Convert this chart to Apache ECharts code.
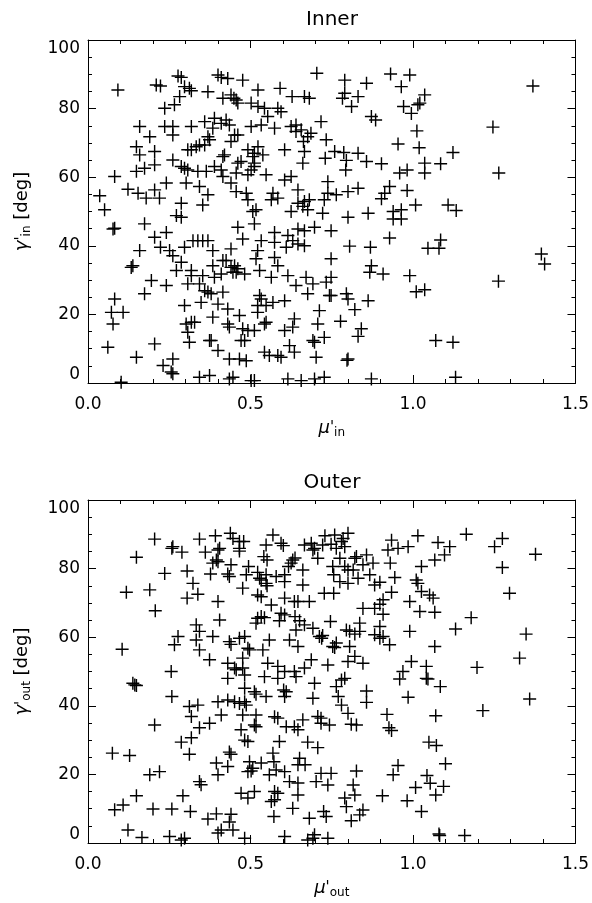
<!DOCTYPE html>
<html>
<head>
<meta charset="utf-8">
<script src="https://cdn.jsdelivr.net/npm/echarts@6/dist/echarts.min.js"></script>
<style>
html,body{margin:0;padding:0;background:#fff;}
#chart{width:592px;height:903px;}
</style>
</head>
<body>
<div id="chart"></div>
<script>
// ---------------- data ----------------
const panelTitles = ['Inner', 'Outer'];
const xTickValues = [0.0, 0.5, 1.0, 1.5];
const yTickValues = [0, 20, 40, 60, 80, 100];

const innerMu = [
0.092,0.21,0.223,0.277,0.287,0.297,0.312,0.318,0.369,0.40,
0.41,0.43,0.476,0.415,0.44,0.449,0.456,0.461,0.523,0.591,
0.628,0.666,0.681,0.704,0.282,0.266,0.236,0.502,0.523,0.543,
0.584,0.594,0.553,0.389,0.425,0.41,0.435,0.717,0.159,0.236,
0.261,0.261,0.318,0.359,0.384,0.502,0.533,0.574,0.625,0.64,
0.64,0.656,0.676,0.686,0.19,0.451,0.461,0.44,0.369,0.374,
0.359,0.343,0.333,0.318,0.307,0.149,0.159,0.205,0.261,0.287,
0.297,0.307,0.42,0.415,0.461,0.471,0.492,0.512,0.523,0.538,
0.507,0.512,0.512,0.605,0.666,0.663,0.733,0.73,0.082,0.149,
0.174,0.205,0.241,0.302,0.338,0.364,0.389,0.41,0.415,0.44,
0.456,0.492,0.502,0.548,0.661,0.605,0.625,0.738,0.123,0.154,
0.179,0.205,0.22,0.036,0.051,0.287,0.343,0.353,0.369,0.456,
0.487,0.492,0.517,0.507,0.564,0.569,0.584,0.646,0.646,0.666,
0.661,0.681,0.676,0.625,0.727,0.738,0.722,
0.79,0.857,0.931,0.99,0.964,0.79,0.783,0.831,0.811,0.971,
1.015,1.021,0.995,1.036,0.872,0.885,1.369,1.246,1.012,0.954,
1.019,1.123,0.759,0.787,0.831,0.795,0.793,0.857,0.903,1.036,
1.036,1.085,0.959,0.982,1.264,0.764,0.80,0.831,0.928,0.913,
0.903,0.982,1.008,0.939,0.964,0.862,1.108,1.133,
0.272,0.287,0.077,0.082,0.174,0.241,0.205,0.461,0.512,0.476,
0.574,0.615,0.646,0.666,0.697,0.748,0.533,0.574,0.61,0.63,
0.646,0.666,0.323,0.338,0.353,0.369,0.297,0.384,0.159,0.223,
0.251,0.261,0.44,0.522,0.517,0.574,0.584,0.748,0.138,0.133,
0.287,0.272,0.384,0.415,0.425,0.44,0.451,0.461,0.446,0.456,
0.482,0.389,0.41,0.318,0.318,0.307,0.343,0.359,0.369,0.379,
0.415,0.353,0.528,0.564,0.615,0.64,0.671,0.692,0.733,0.748,
0.195,0.241,0.174,0.082,0.072,0.108,0.077,0.297,0.348,0.40,
0.43,0.466,0.528,0.533,0.522,0.522,0.548,0.569,0.605,0.676,
0.743,0.748,0.712,0.302,0.307,0.318,0.312,0.328,0.384,0.43,
0.435,0.476,0.492,0.512,0.543,0.548,0.605,0.63,0.635,0.707,
0.727,0.374,0.379,0.40,0.471,0.482,0.466,0.487,0.692,0.697,
0.702,0.62,0.635,0.543,0.558,0.584,0.594,0.435,0.061,0.149,
0.205,0.231,0.261,0.256,0.261,0.343,0.374,0.102,0.435,0.446,
0.502,0.512,0.615,0.656,0.697,0.727,
0.80,0.939,0.964,0.928,0.805,0.869,1.046,1.08,1.085,1.395,
1.405,0.872,0.867,0.908,0.99,1.263,0.795,0.80,0.821,0.862,
1.01,1.036,0.777,0.841,0.831,1.07,1.123,0.80,0.797,0.872,1.131
];
const innerGamma = [
85.4,86.9,86.6,89.5,89.1,86.4,85.9,85.2,84.9,89.8,
89.1,88.8,88.3,83.0,84.0,83.0,82.5,81.6,85.4,85.9,
83.5,83.5,83.0,90.3,83.5,81.1,80.1,81.6,80.6,80.1,
80.1,79.1,77.7,77.2,76.7,75.7,75.2,76.2,74.8,74.8,
74.8,72.3,74.8,76.2,74.3,74.8,75.2,74.3,74.8,75.2,
73.3,73.8,71.8,72.8,71.8,72.3,72.3,70.4,71.8,70.9,
69.4,69.4,68.9,68.0,68.0,68.9,66.5,67.5,65.0,63.1,
62.6,62.1,66.5,66.0,64.1,64.6,68.0,67.0,68.9,66.5,
66.0,63.1,64.1,68.0,67.5,70.4,70.9,65.5,60.2,61.7,
62.6,63.6,58.3,58.3,61.7,61.7,63.1,62.1,60.2,58.3,
61.2,60.7,62.1,60.7,64.1,59.2,60.2,58.7,56.5,55.3,
53.9,56.3,53.9,54.6,50.5,52.4,57.3,51.9,54.9,55.8,
55.3,53.4,50.5,50.0,53.4,55.3,53.9,56.3,52.4,52.9,
51.5,53.4,50.5,50.0,53.4,55.3,49.5,
88.3,87.4,90.1,89.8,86.4,84.5,83.0,83.5,80.6,80.6,
81.1,81.6,78.6,84.0,77.7,76.7,86.6,74.6,73.5,69.7,
68.6,67.2,67.5,67.2,67.0,64.9,62.1,64.6,63.9,64.1,
61.2,63.9,61.2,62.1,61.2,54.9,55.8,56.8,57.3,55.3,
53.7,56.1,51.9,50.0,50.5,49.5,51.9,50.3,
48.8,48.3,44.9,45.1,46.4,43.9,42.5,45.4,46.4,42.0,
43.9,43.0,44.9,44.4,45.4,44.4,41.5,41.0,39.6,41.5,
40.5,40.0,41.5,41.5,41.5,41.5,39.6,38.6,38.6,39.6,
38.6,37.1,39.1,38.6,36.2,36.6,34.2,36.2,34.2,33.7,
35.2,32.8,34.2,35.7,35.7,33.7,34.2,33.3,32.3,32.3,
31.8,30.8,31.8,32.8,31.3,28.9,28.9,26.9,26.5,26.0,
26.5,31.3,32.8,30.8,31.3,28.4,30.8,28.9,29.4,30.8,
29.9,28.4,26.0,24.5,20.6,20.6,17.2,22.6,23.5,23.0,
21.6,19.7,25.5,24.5,22.6,20.6,22.6,23.5,24.0,26.0,
25.5,25.5,21.1,17.2,14.8,17.7,11.9,17.7,19.2,17.2,
16.3,15.8,15.3,15.3,17.2,17.7,15.3,16.3,18.7,17.2,
13.3,12.4,12.4,9.5,12.4,12.4,7.0,6.5,12.4,11.9,
7.5,10.9,9.0,9.0,8.0,8.0,7.5,7.0,10.4,7.5,
11.4,5.1,7.0,3.2,2.7,1.7,2.2,0.2,1.2,1.7,
0.7,0.7,1.2,0.7,1.2,1.7,
48.3,47.8,47.8,42.3,39.9,39.6,39.3,39.3,41.7,37.6,
34.7,34.2,32.3,31.8,31.3,29.7,26.0,24.5,21.4,24.0,
26.6,27.2,18.0,15.8,13.6,12.4,11.9,7.0,6.6,1.2,1.7
];

const outerMu = [
0.205,0.261,0.258,0.289,0.149,0.343,0.392,0.405,0.40,0.361,
0.438,0.446,0.466,0.479,0.466,0.466,0.395,0.40,0.384,0.44,
0.548,0.569,0.594,0.601,0.541,0.551,0.666,0.687,0.697,0.692,
0.722,0.729,0.748,0.707,0.63,0.625,0.617,0.637,0.661,0.753,
0.756,0.236,0.305,0.323,0.377,0.43,0.435,0.487,0.494,0.522,
0.528,0.533,0.548,0.548,0.551,0.579,0.605,0.605,0.476,0.661,
0.118,0.19,0.305,0.338,0.40,0.522,0.533,0.564,0.605,0.635,
0.646,0.681,0.727,0.756,0.207,0.405,0.522,0.533,0.543,0.517,
0.594,0.605,0.589,0.637,0.651,0.64,0.666,0.692,0.746,0.333,
0.343,0.277,0.266,0.333,0.384,0.435,0.44,0.466,0.482,0.558,
0.62,0.646,0.712,0.722,0.719,0.753,0.105,0.343,0.374,0.492,
0.497,0.476,0.538,0.687,0.553,0.584,0.738,0.256,0.43,0.451,
0.456,0.476,0.605,0.635,0.666,
0.759,0.785,0.80,0.78,0.79,0.764,0.775,0.821,0.826,0.857,
0.846,0.877,0.79,0.80,0.816,0.775,0.80,0.831,0.867,0.934,
0.923,0.954,0.985,0.93,0.944,1.015,1.077,1.113,1.097,1.067,
1.026,1.164,1.251,1.275,1.377,1.275,1.297,0.882,0.898,0.934,
0.908,0.898,0.882,0.846,0.908,1.01,1.015,1.026,1.051,1.062,
0.99,1.021,1.067,1.179,1.131,1.348,0.795,0.805,0.836,0.821,
0.836,0.882,0.898,0.898,0.908,0.99,0.764,0.759,0.805,0.821,
0.80,0.846,0.928,1.067,0.995,0.969,1.041,1.197,1.328,
0.138,0.144,0.149,0.258,0.43,0.482,0.543,0.584,0.64,0.697,
0.482,0.512,0.517,0.548,0.602,0.605,0.61,0.692,0.312,0.338,
0.318,0.40,0.43,0.451,0.466,0.482,0.487,0.41,0.476,0.517,
0.205,0.343,0.374,0.471,0.482,0.492,0.512,0.517,0.574,0.584,
0.61,0.635,0.646,0.661,0.707,0.717,0.717,0.743,0.287,0.318,
0.589,0.676,0.707,0.075,0.128,0.312,0.435,0.44,0.395,0.43,
0.40,0.497,0.507,0.492,0.502,0.533,0.569,0.572,0.558,0.579,
0.605,0.651,0.646,0.668,0.717,0.702,0.748,0.738,0.19,0.22,
0.343,0.348,0.62,0.646,0.149,0.292,0.471,0.492,0.512,0.574,
0.584,0.574,0.564,0.646,0.082,0.108,0.20,0.258,0.315,0.369,
0.395,0.44,0.435,0.63,0.572,0.681,0.725,0.733,0.123,0.166,
0.251,0.287,0.297,0.40,0.41,0.446,0.482,0.605,0.676,0.692,
0.697,0.738,
0.79,0.78,0.764,0.77,0.78,0.80,0.81,0.826,0.857,0.857,
0.959,0.985,1.041,1.046,1.084,0.92,0.926,0.934,1.07,1.215,
1.359,1.049,1.072,1.10,0.954,0.939,1.043,1.053,1.094,1.008,
1.07,0.982,1.026,0.906,0.826,0.816,0.821,0.79,0.795,0.846,
0.836,0.81,1.08,1.082,1.159
];
const outerGamma = [
88.6,86.4,85.9,84.8,83.3,88.6,89.6,85.9,85.4,84.8,
90.3,88.8,87.9,87.9,85.9,85.1,82.5,82.0,81.6,81.1,
86.9,89.8,87.4,86.7,83.5,82.5,86.9,87.4,85.9,85.4,
86.9,89.6,87.1,83.0,82.5,81.6,80.6,83.1,79.6,80.6,
78.2,78.6,79.3,75.7,78.4,78.4,77.7,78.2,80.6,78.9,
77.2,76.7,78.2,75.7,75.0,77.7,78.2,76.2,74.3,75.2,
73.1,73.8,71.4,72.5,70.4,72.3,71.8,69.4,71.4,70.4,
70.4,70.4,72.8,72.8,67.7,65.0,65.5,66.0,65.7,64.1,
67.0,66.5,64.8,66.0,64.8,62.1,63.6,62.6,64.6,63.6,
61.7,60.2,57.8,59.2,60.2,58.7,57.9,59.7,60.2,59.2,
59.2,57.3,60.2,60.5,59.7,57.3,56.5,56.3,53.4,56.8,
56.3,53.9,56.3,53.4,52.4,51.5,51.9,50.0,52.4,51.0,
50.5,51.0,50.0,50.0,51.0,
89.8,88.8,90.3,87.9,86.4,85.9,83.0,83.0,83.5,84.0,
81.1,81.6,80.6,79.6,79.6,76.2,75.7,77.2,78.2,88.3,
85.4,85.9,86.4,81.6,77.4,89.6,87.6,86.4,84.0,82.5,
80.6,90.0,86.4,88.8,84.2,80.3,72.8,75.2,76.0,73.1,
70.9,69.6,68.4,68.4,66.7,76.7,75.7,73.3,72.3,71.4,
70.4,67.5,67.3,65.7,62.4,60.9,62.1,61.7,64.1,60.9,
61.7,60.7,63.1,59.7,60.2,61.7,58.3,57.0,57.3,54.4,
52.9,52.4,57.8,57.3,52.9,50.0,51.5,51.2,53.9,
46.6,46.1,45.9,42.7,48.0,49.0,48.5,48.0,48.5,46.6,
45.1,44.1,43.4,42.7,44.6,42.7,44.1,42.2,39.8,40.2,
36.9,41.2,41.7,41.2,40.7,41.2,40.2,37.3,37.3,37.3,
34.4,33.6,34.9,33.0,30.0,29.6,34.4,33.9,36.8,36.4,
33.9,33.9,33.0,35.9,36.9,36.4,34.9,34.4,29.4,30.7,
29.6,29.4,27.8,26.2,25.5,25.9,26.5,25.9,23.3,22.3,
19.9,23.7,21.8,20.8,21.0,23.3,26.2,23.7,19.9,21.3,
20.8,24.7,22.8,22.8,20.3,17.9,20.3,16.9,19.9,20.8,
17.9,17.0,17.9,17.5,13.8,13.8,14.5,13.1,15.0,15.0,
14.5,12.6,12.1,14.0,9.7,11.1,9.9,9.9,9.2,7.0,
8.5,8.4,6.1,10.1,7.7,7.2,9.2,7.7,3.8,1.6,
1.9,0.9,1.4,2.9,3.8,3.8,1.4,1.9,0.9,1.4,
2.4,1.4,
48.0,47.5,45.6,42.7,40.2,37.8,34.6,34.4,44.3,41.0,
47.8,42.5,48.0,47.8,45.6,37.5,33.6,32.8,37.1,38.6,
42.0,29.4,28.4,23.1,22.6,19.9,19.7,17.4,16.5,16.2,
14.0,12.3,9.2,13.8,21.0,16.9,14.0,13.1,10.6,9.6,
8.2,6.5,2.6,2.2,2.2
];

// ---------------- chart ----------------
const FONT = "'DejaVu Sans', sans-serif";
const INK = '#000';
const PLUS = 'path://M-0.11,-1L0.11,-1L0.11,-0.11L1,-0.11L1,0.11L0.11,0.11L0.11,1L-0.11,1L-0.11,0.11L-1,0.11L-1,-0.11L-0.11,-0.11Z';

const grids = [
  {left: 88, top: 40, width: 488, height: 343},
  {left: 88, top: 500, width: 488, height: 343}
];

const nameRich = {
  g: {fontSize: 18, fontFamily: FONT, color: INK, fontStyle: 'italic', lineHeight: 22},
  p: {fontSize: 15, fontFamily: FONT, color: INK, lineHeight: 22},
  s: {fontSize: 12, fontFamily: FONT, color: INK, lineHeight: 12, verticalAlign: 'bottom'},
  t: {fontSize: 18, fontFamily: FONT, color: INK, lineHeight: 22}
};

function xAxis(gi, pos, sub) {
  const show = pos === 'bottom';
  return {
    type: 'value', gridIndex: gi, position: pos,
    min: xTickValues[0], max: xTickValues[xTickValues.length - 1],
    interval: xTickValues[1] - xTickValues[0],
    axisLine: {show: true, onZero: false, lineStyle: {color: INK, width: 1}},
    axisTick: {show: true, inside: true, length: 8, lineStyle: {color: INK, width: 1}},
    minorTick: {show: true, splitNumber: 5, length: 4, lineStyle: {color: INK, width: 1}},
    splitLine: {show: false},
    axisLabel: {show: show, margin: 13, fontSize: 17, fontFamily: FONT, color: INK,
      formatter: v => v.toFixed(1)},
    name: show ? '{g|μ}{p|\'}{s|' + sub + '}' : '',
    nameLocation: 'middle', nameGap: 34,
    nameTextStyle: {rich: nameRich}
  };
}
function yAxis(gi, pos, sub) {
  const show = pos === 'left';
  return {
    type: 'value', gridIndex: gi, position: pos,
    min: yTickValues[0], max: yTickValues[yTickValues.length - 1],
    interval: yTickValues[1] - yTickValues[0],
    axisLine: {show: true, onZero: false, lineStyle: {color: INK, width: 1}},
    axisTick: {show: true, inside: true, length: 8, lineStyle: {color: INK, width: 1}},
    minorTick: {show: true, splitNumber: 4, length: 4, lineStyle: {color: INK, width: 1}},
    splitLine: {show: false},
    axisLabel: {show: show, margin: 8, fontSize: 17, fontFamily: FONT, color: INK,
      verticalAlignMinLabel: 'bottom', verticalAlignMaxLabel: 'top'},
    name: show ? '{g|γ}{p|\'}{s|' + sub + '}{t| [deg]}' : '',
    nameLocation: 'middle', nameGap: 55, nameRotate: 90,
    nameTextStyle: {rich: nameRich}
  };
}

function series(gi, mu, gamma) {
  return {
    type: 'scatter', xAxisIndex: gi * 2, yAxisIndex: gi * 2,
    symbol: PLUS, symbolSize: 13,
    itemStyle: {color: INK, opacity: 1},
    emphasis: {disabled: true},
    silent: true,
    clip: true,
    data: mu.map((m, i) => [m, gamma[i]])
  };
}

const chart = echarts.init(document.getElementById('chart'), null, {renderer: 'canvas'});
chart.setOption({
  backgroundColor: '#fff',
  animation: false,
  grid: grids,
  xAxis: [xAxis(0, 'bottom', 'in'), xAxis(0, 'top', 'in'), xAxis(1, 'bottom', 'out'), xAxis(1, 'top', 'out')],
  yAxis: [yAxis(0, 'left', 'in'), yAxis(0, 'right', 'in'), yAxis(1, 'left', 'out'), yAxis(1, 'right', 'out')],
  graphic: [
    {type: 'text', x: 332, y: 20, style: {text: panelTitles[0], fontSize: 20, fontFamily: FONT, fill: INK, align: 'center', verticalAlign: 'middle'}},
    {type: 'text', x: 332, y: 483, style: {text: panelTitles[1], fontSize: 20, fontFamily: FONT, fill: INK, align: 'center', verticalAlign: 'middle'}}
  ],
  series: [series(0, innerMu, innerGamma), series(1, outerMu, outerGamma)]
});
</script>
</body>
</html>
